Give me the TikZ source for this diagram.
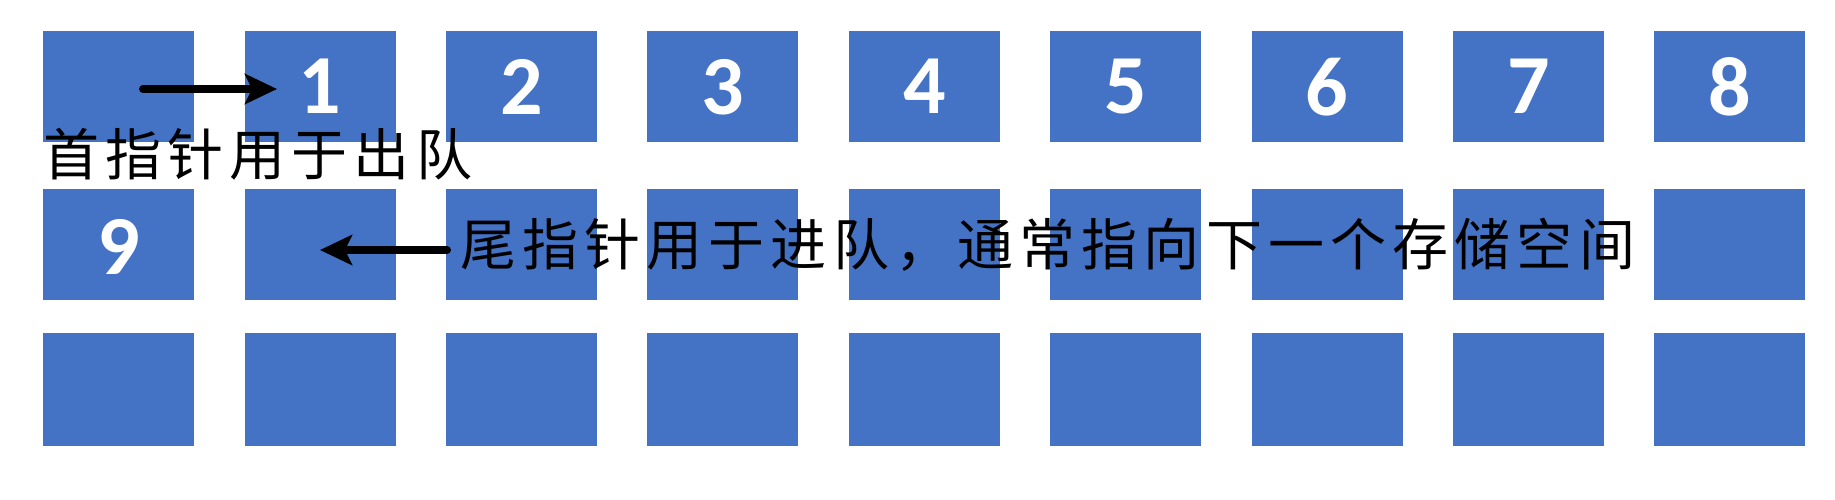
\documentclass[tikz,border=0pt]{standalone}
\usepackage{fontspec}
\newfontfamily\cjk{Noto Sans CJK SC}[LetterSpace=11]
\newfontfamily\digitfont{Carlito}
\usetikzlibrary{arrows.meta}
\definecolor{cellblue}{HTML}{4472C4}
\tikzset{
  cell/.style={fill=cellblue, draw=none, minimum width=151pt, inner sep=0pt, anchor=north west},
  num/.style={text=white, font=\digitfont\bfseries\fontsize{84}{84}\selectfont, inner sep=0pt, text depth=0pt},
  label/.style={font=\cjk\fontsize{56}{60}\selectfont, inner sep=0pt, anchor=base west, text=black, text height=44pt, text depth=4pt},
  pointer/.style={line width=8pt, line cap=round, -{Stealth[length=32pt,width=30pt,inset=7pt]}}
}
\begin{document}
\begin{tikzpicture}[x=1pt,y=-1pt]
\useasboundingbox[fill=white] (0,0) rectangle (1835,499);
% grid
\foreach \i in {0,...,8}{
  \node[cell, minimum height=111pt] (r1c\i) at ({43+201.4*\i},31) {};
  \node[cell, minimum height=111pt] (r2c\i) at ({43+201.4*\i},189) {};
  \node[cell, minimum height=113pt] (r3c\i) at ({43+201.4*\i},333) {};
}
% numbers
\foreach \i in {1,...,8}{
  \node[num] (d\i) at (r1c\i.center) {\i};
}
\node[num] (d9) at ([yshift=-2pt]r2c0.center) {9};
% labels
\node[label] (headtext) at (43,175) {首指针用于出队};
\node[label] (tailtext) at (460,265) {尾指针用于进队，通常指向下一个存储空间};
% pointers
\coordinate (headtail) at (143,89);
\coordinate (headtip) at (277,89);
\coordinate (tailtail) at (447,250);
\coordinate (tailtip) at (320,250);
\draw[pointer] (headtail) -- (headtip);
\draw[pointer] (tailtail) -- (tailtip);
\end{tikzpicture}
\end{document}
